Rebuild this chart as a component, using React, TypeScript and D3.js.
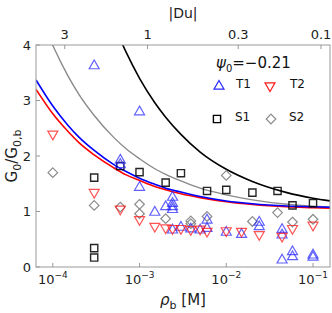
import * as d3 from "d3";

const W = 332;
const H = 313;
const margin = { top: 45, right: 2, bottom: 46, left: 36 };

// theory curves, G0/G0,b vs rho_b [M]
const blueRho = [6.4e-5, 1e-4, 1.5e-4, 2e-4, 3e-4, 5e-4, 7e-4, 1e-3, 1.5e-3, 2e-3, 3e-3, 5e-3, 1e-2, 2e-2, 5e-2, 0.1, 0.16];
const blueVal = [3.37, 2.9, 2.55, 2.34, 2.1, 1.85, 1.72, 1.6, 1.49, 1.42, 1.35, 1.27, 1.19, 1.14, 1.1, 1.085, 1.075];
const redVal = [3.2, 2.76, 2.44, 2.24, 2.02, 1.79, 1.66, 1.56, 1.45, 1.39, 1.32, 1.25, 1.175, 1.125, 1.085, 1.07, 1.06];
const grayRho = [9e-5, 1e-4, 1.5e-4, 2e-4, 3e-4, 5e-4, 7e-4, 1e-3, 1.5e-3, 2e-3, 3e-3, 5e-3, 1e-2, 2e-2, 5e-2, 0.1, 0.16];
const grayVal = [4.15, 3.99, 3.44, 3.11, 2.73, 2.34, 2.13, 1.95, 1.77, 1.67, 1.55, 1.42, 1.3, 1.21, 1.13, 1.095, 1.08];
const blackRho = [6e-4, 7e-4, 1e-3, 1.5e-3, 2e-3, 3e-3, 5e-3, 1e-2, 2e-2, 5e-2, 0.1, 0.16];
const blackVal = [4.1, 3.87, 3.4, 2.96, 2.7, 2.39, 2.07, 1.76, 1.54, 1.34, 1.24, 1.19];

// measurements
const t1Rho = [3e-4, 6e-4, 6e-4, 1e-3, 1e-3, 1.5e-3, 2e-3, 2.4e-3, 2.4e-3, 2.4e-3, 2.4e-3, 2.4e-3, 3e-3, 3.9e-3, 5e-3, 6e-3, 6e-3, 1e-2, 1.5e-2, 2.4e-2, 2.4e-2, 4.4e-2, 4.4e-2, 4.4e-2, 5.8e-2, 5.8e-2, 0.1, 0.1];
const t1Val = [3.63, 1.93, 1.85, 2.8, 1.44, 0.99, 1.09, 1.26, 1.15, 1.09, 1.04, 0.67, 0.72, 0.69, 0.67, 0.85, 0.7, 0.63, 0.59, 0.81, 0.73, 0.68, 0.58, 0.13, 0.28, 0.19, 0.22, 0.18];
const t2Rho = [1e-4, 3e-4, 6e-4, 1e-3, 1.5e-3, 2e-3, 2.4e-3, 3e-3, 3.9e-3, 5e-3, 6e-3, 1e-2, 1.5e-2, 2.4e-2, 4.4e-2, 5.8e-2, 0.1];
const t2Val = [2.39, 1.34, 1.04, 0.85, 0.73, 0.7, 0.69, 0.69, 0.67, 0.68, 0.64, 0.65, 0.64, 0.58, 0.55, 0.69, 0.75];
const s1Rho = [3e-4, 3e-4, 3e-4, 6e-4, 1e-3, 2e-3, 3e-3, 6e-3, 1e-2, 2e-2, 3.9e-2, 5.8e-2, 0.1];
const s1Val = [1.61, 0.34, 0.17, 1.82, 1.71, 1.52, 1.69, 1.37, 1.39, 1.34, 1.37, 1.11, 1.15];
const s2Rho = [1e-4, 3e-4, 6e-4, 1e-3, 1e-3, 2e-3, 3.9e-3, 3.9e-3, 6e-3, 1e-2, 2e-2, 3.9e-2, 5.8e-2, 0.1];
const s2Val = [1.7, 1.11, 1.08, 1.13, 0.96, 0.87, 0.83, 0.78, 0.91, 1.65, 0.82, 0.98, 0.81, 0.86];

const xTicks = [1e-4, 1e-3, 1e-2, 1e-1];
const xExps = ["\u22124", "\u22123", "\u22122", "\u22121"];
const yTicks = [0, 1, 2, 3, 4];
const duTicks = [3, 1, 0.3, 0.1];
const duLabels = ["3", "1", "0.3", "0.1"];
const DU_ONE_RHO = 1.236e-3; // rho_b where |Du| = 1

const FONT = "DejaVu Sans, Verdana, sans-serif";
const FRAME = "#999";

const triUp = "M0,-5.5L5,3.2L-5,3.2Z";
const triDown = "M0,5.5L5,-3.2L-5,-3.2Z";
const square = "M-3.6,-3.6H3.6V3.6H-3.6Z";
const diamond = "M0,-4.8L4.8,0L0,4.8L-4.8,0Z";

export default function App() {
  const innerW = W - margin.left - margin.right;
  const innerH = H - margin.top - margin.bottom;

  const x = d3.scaleLog().domain([6.4e-5, 0.157]).range([0, innerW]);
  const y = d3.scaleLinear().domain([0, 4]).range([innerH, 0]);

  const line = (rho: number[], val: number[]) =>
    d3
      .line<number>()
      .x((_, i) => x(rho[i]))
      .y((d) => y(d))
      .curve(d3.curveMonotoneX)(val) ?? "";

  const curves = [
    { d: line(grayRho, grayVal), color: "#8a8a8a", w: 1.4 },
    { d: line(blackRho, blackVal), color: "#000", w: 1.6 },
    { d: line(blueRho, redVal), color: "#ff0000", w: 1.6 },
    { d: line(blueRho, blueVal), color: "#0000ff", w: 1.6 },
  ];

  const markers = (rho: number[], val: number[], path: string, color: string, sw: number, op: number, key: string) =>
    val.map((v, i) => (
      <path
        key={`${key}${i}`}
        d={path}
        transform={`translate(${x(rho[i])},${y(v)})`}
        fill="none"
        stroke={color}
        strokeWidth={sw}
        strokeOpacity={op}
      />
    ));

  return (
    <svg width={W} height={H} style={{ position: "absolute", left: 0, top: 0, background: "#fff" }} fontFamily={FONT}>
      <defs>
        <clipPath id="plot">
          <rect x={0} y={0} width={innerW} height={innerH} />
        </clipPath>
      </defs>
      <g transform={`translate(${margin.left},${margin.top})`}>
        <g clipPath="url(#plot)">
          {curves.map((c, i) => (
            <path key={i} d={c.d} fill="none" stroke={c.color} strokeWidth={c.w} />
          ))}
          {markers(s2Rho, s2Val, diamond, "#8c8c8c", 1.2, 1, "s2")}
          {markers(s1Rho, s1Val, square, "#000", 1.4, 0.85, "s1")}
          {markers(t1Rho, t1Val, triUp, "#2b2bff", 1.2, 0.75, "t1")}
          {markers(t2Rho, t2Val, triDown, "#ff1a1a", 1.2, 0.75, "t2")}
        </g>

        {/* frame */}
        <rect x={0} y={0} width={innerW} height={innerH} fill="none" stroke={FRAME} strokeWidth={1} />

        {/* bottom axis */}
        {xTicks.map((t, i) => (
          <g key={`xb${i}`} transform={`translate(${x(t)},0)`}>
            <line y1={innerH} y2={innerH - 4} stroke={FRAME} />
            <text y={innerH + 17} textAnchor="middle" fontSize={13} fill="#222">
              10<tspan fontSize={9} dy={-6}>{xExps[i]}</tspan>
            </text>
          </g>
        ))}

        {/* top axis, |Du| */}
        {duTicks.map((t, i) => (
          <g key={`xt${i}`} transform={`translate(${x(DU_ONE_RHO / (t * t))},0)`}>
            <line y1={0} y2={4} stroke={FRAME} />
            <text y={-6} textAnchor="middle" fontSize={13} fill="#222">
              {duLabels[i]}
            </text>
          </g>
        ))}

        {/* left axis */}
        {yTicks.map((t) => (
          <g key={`y${t}`} transform={`translate(0,${y(t)})`}>
            <line x1={0} x2={4} stroke={FRAME} />
            <text x={-5} dy="0.36em" textAnchor="end" fontSize={13} fill="#222">
              {t}
            </text>
          </g>
        ))}

        {/* legend */}
        <text x={180} y={23} fontSize={15} fill="#111">
          <tspan fontStyle="italic">ψ</tspan>
          <tspan fontSize={10} dy={4}>0</tspan>
          <tspan dy={-4}>=−0.21</tspan>
        </text>
        <path d={triUp} transform="translate(183,41)" fill="none" stroke="#2b2bff" strokeWidth={1.2} />
        <text x={200} y={43} fontSize={12} fill="#111">T1</text>
        <path d={triDown} transform="translate(234,41)" fill="none" stroke="#ff1a1a" strokeWidth={1.2} />
        <text x={254} y={43} fontSize={12} fill="#111">T2</text>
        <path d={square} transform="translate(181,74)" fill="none" stroke="#000" strokeWidth={1.4} />
        <text x={199} y={76} fontSize={12} fill="#111">S1</text>
        <path d={diamond} transform="translate(235,74)" fill="none" stroke="#8c8c8c" strokeWidth={1.2} />
        <text x={253} y={76} fontSize={12} fill="#111">S2</text>
      </g>

      {/* axis titles */}
      <text x={margin.left + innerW / 2} y={18} textAnchor="middle" fontSize={14} fill="#222">
        |Du|
      </text>
      <text x={margin.left + innerW / 2} y={305} textAnchor="middle" fontSize={15} fill="#222">
        <tspan fontStyle="italic">ρ</tspan>
        <tspan fontSize={11} dy={4}>b</tspan>
        <tspan dy={-4}> [M]</tspan>
      </text>
      <text transform={`translate(17,${margin.top + innerH / 2}) rotate(-90)`} textAnchor="middle" fontSize={15} fill="#222">
        G<tspan fontSize={11} dy={4}>0</tspan>
        <tspan dy={-4}>/G</tspan>
        <tspan fontSize={11} dy={4}>0,b</tspan>
      </text>
    </svg>
  );
}
